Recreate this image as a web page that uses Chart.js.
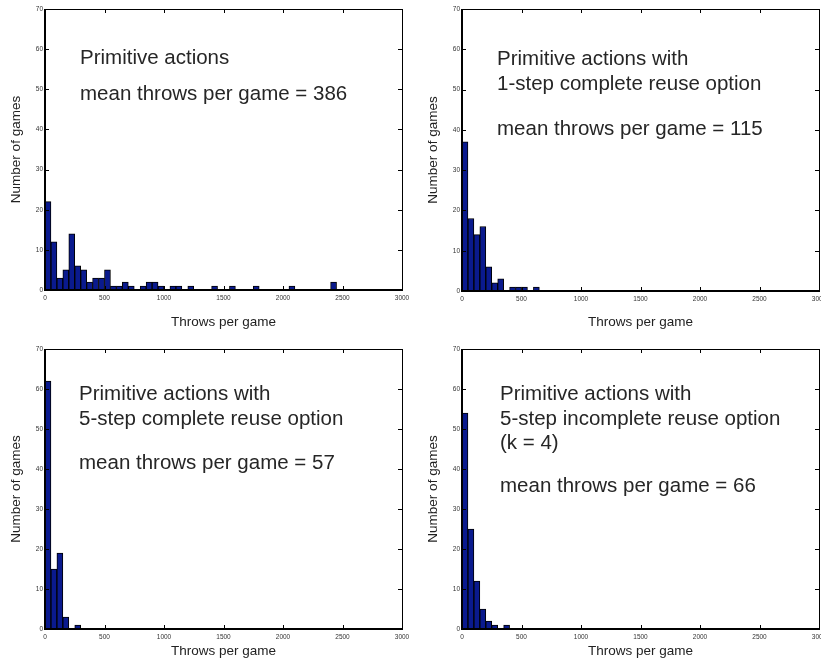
<!DOCTYPE html>
<html>
<head>
<meta charset="utf-8">
<script src="https://cdn.jsdelivr.net/npm/chart.js@4.4.1/dist/chart.umd.min.js"></script>
<style>
  html, body { margin: 0; padding: 0; background: #fff; width: 821px; height: 671px; overflow: hidden; }
  canvas { position: absolute; }
</style>
</head>
<body>
<canvas id="c1"></canvas>
<canvas id="c2"></canvas>
<canvas id="c3"></canvas>
<canvas id="c4"></canvas>
<script>
// histogram bins are 50 throws wide, counted from 0
const binWidth = 50;
const xMax = 3000;
const yMax = 70;

// number of games per bin
const primitiveCounts = [22, 12, 3, 5, 14, 6, 5, 2, 3, 3, 5, 1, 1, 2, 1, 0, 1, 2, 2, 1,
                         0, 1, 1, 0, 1, 0, 0, 0, 1, 0, 0, 1, 0, 0, 0, 1, 0, 0, 0, 0,
                         0, 1, 0, 0, 0, 0, 0, 0, 2];
const reuse1Counts = [37, 18, 14, 16, 6, 2, 3, 0, 1, 1, 1, 0, 1];
const reuse5Counts = [62, 15, 19, 3, 0, 1];
const incomplete5Counts = [54, 25, 12, 5, 2, 1, 0, 1];

const text1 = ['Primitive actions', 'mean throws per game = 386'];
const text2 = ['Primitive actions with', '1-step complete reuse option', 'mean throws per game = 115'];
const text3 = ['Primitive actions with', '5-step complete reuse option', 'mean throws per game = 57'];
const text4 = ['Primitive actions with', '5-step incomplete reuse option', '(k = 4)', 'mean throws per game = 66'];

Chart.defaults.font.family = 'Helvetica, Arial, "Liberation Sans", sans-serif';

const panels = [
  {id: 'c1', left: 0, top: 0, w: 410, h: 330, yw: 45, pr: 8, pt: 9, xh: 40, xtp: 0, ytp: 8,
   counts: primitiveCounts, text: text1, tx: 80, ty: [64, 100]},
  {id: 'c2', left: 410, top: 0, w: 411, h: 330, yw: 52, pr: 2, pt: 9, xh: 39, xtp: 0, ytp: 15,
   counts: reuse1Counts, text: text2, tx: 87, ty: [65, 90, 135]},
  {id: 'c3', left: 0, top: 330, w: 410, h: 341, yw: 45, pr: 8, pt: 19, xh: 42, xtp: 12, ytp: 8,
   counts: reuse5Counts, text: text3, tx: 79, ty: [70, 95, 139]},
  {id: 'c4', left: 410, top: 330, w: 411, h: 341, yw: 52, pr: 2, pt: 19, xh: 42, xtp: 12, ytp: 15,
   counts: incomplete5Counts, text: text4, tx: 90, ty: [70, 95, 119, 162]}
];

// matlab style box with inward ticks on all four sides
const boxPlugin = {
  id: 'matlabBox',
  afterDatasetsDraw(chart) {
    const {ctx, chartArea: a, scales: {x, y}} = chart;
    ctx.save();
    ctx.strokeStyle = '#000';
    ctx.lineWidth = 1;
    ctx.beginPath();
    x.ticks.forEach(t => {
      const px = Math.round(x.getPixelForValue(t.value)) + 0.5;
      ctx.moveTo(px, a.bottom); ctx.lineTo(px, a.bottom - 4);
      ctx.moveTo(px, a.top); ctx.lineTo(px, a.top + 4);
    });
    y.ticks.forEach(t => {
      const py = Math.round(y.getPixelForValue(t.value)) + 0.5;
      ctx.moveTo(a.left, py); ctx.lineTo(a.left + 4, py);
      ctx.moveTo(a.right, py); ctx.lineTo(a.right - 4, py);
    });
    ctx.stroke();
    ctx.strokeRect(a.left + 0.5, a.top + 0.5, a.width, a.height);
    ctx.lineWidth = 2;
    ctx.beginPath();
    ctx.moveTo(a.left, a.top);
    ctx.lineTo(a.left, a.bottom);
    ctx.lineTo(a.right + 1, a.bottom);
    ctx.stroke();
    ctx.restore();
  }
};

const notePlugin = {
  id: 'note',
  afterDraw(chart, args, opts) {
    const ctx = chart.ctx;
    ctx.save();
    ctx.fillStyle = '#262626';
    ctx.font = '20.5px Helvetica, Arial, "Liberation Sans", sans-serif';
    ctx.textBaseline = 'alphabetic';
    opts.lines.forEach((s, i) => ctx.fillText(s, opts.x, opts.ys[i]));
    ctx.restore();
  }
};

panels.forEach(p => {
  const el = document.getElementById(p.id);
  el.width = p.w; el.height = p.h;
  el.style.left = p.left + 'px'; el.style.top = p.top + 'px';
  el.style.width = p.w + 'px'; el.style.height = p.h + 'px';

  const points = p.counts.map((c, i) => ({x: i * binWidth + binWidth / 2, y: c > 0 ? c : null}));

  new Chart(el, {
    type: 'bar',
    data: {
      datasets: [{
        data: points,
        backgroundColor: '#0a1a8e',
        borderColor: '#000',
        borderWidth: 1,
        borderSkipped: false,
        barPercentage: 1,
        categoryPercentage: 1
      }]
    },
    options: {
      responsive: false,
      animation: false,
      devicePixelRatio: 1,
      layout: {padding: {left: 0, top: p.pt, right: p.pr, bottom: 0}},
      plugins: {
        legend: {display: false},
        tooltip: {enabled: false},
        note: {x: p.tx, ys: p.ty, lines: p.text}
      },
      scales: {
        x: {
          type: 'linear', min: 0, max: xMax, offset: false,
          grid: {display: false, drawTicks: false},
          border: {display: false},
          ticks: {stepSize: 500, autoSkip: false, maxRotation: 0, padding: 4,
                  color: '#333', font: {size: 6.5}, callback: v => String(v)},
          title: {display: true, text: 'Throws per game', color: '#222',
                  font: {size: 13.5}, padding: {top: 0, bottom: p.xtp}},
          afterFit: s => { s.height = p.xh; s.paddingLeft = 0; s.paddingRight = 0; }
        },
        y: {
          min: 0, max: yMax,
          grid: {display: false, drawTicks: false},
          border: {display: false},
          ticks: {stepSize: 10, padding: 2, color: '#333', font: {size: 6.5},
                  callback: v => String(v)},
          title: {display: true, text: 'Number of games', color: '#222',
                  font: {size: 13.5}, padding: {top: p.ytp, bottom: 0}},
          afterFit: s => { s.width = p.yw; s.paddingTop = 0; s.paddingBottom = 0; }
        }
      }
    },
    plugins: [boxPlugin, notePlugin]
  });
});
</script>
</body>
</html>
